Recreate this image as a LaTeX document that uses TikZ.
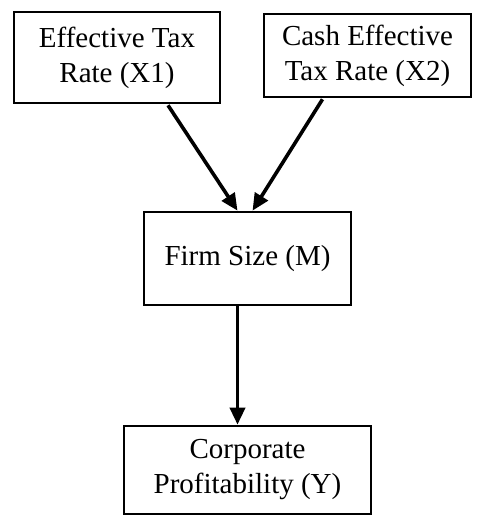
\documentclass[tikz,border=0pt]{standalone}
\usepackage{fontspec}
\setmainfont{Liberation Serif}
\usetikzlibrary{arrows.meta}

\begin{document}
\begin{tikzpicture}[x=1pt, y=1pt,
	varbox/.style={draw, line width=2.6pt, align=center, inner sep=0pt,
		font=\fontsize{29}{35}\selectfont},
	link/.style={line width=3.6pt, -{Triangle[length=17pt, width=15pt]}}]

	\useasboundingbox (0, 0) rectangle (478, 529);

	% variables
	\node[varbox, minimum width=206pt, minimum height=91pt] (etr) at (117, 471.5) {Effective Tax\\ Rate (X1)};
	\node[varbox, minimum width=207pt, minimum height=83pt] (cetr) at (367.5, 473.5) {Cash Effective\\ Tax Rate (X2)};
	\node[varbox, minimum width=207pt, minimum height=93pt] (size) at (247.5, 270.5) {Firm Size (M)};
	\node[varbox, minimum width=247pt, minimum height=88pt] (profit) at (247.5, 59) {Corporate\\ Profitability (Y)};

	% paths
	\draw[link] ([xshift=51pt, yshift=-1pt]etr.south) -- ([xshift=-10pt]size.north);
	\draw[link] ([xshift=-45pt, yshift=-1pt]cetr.south) -- ([xshift=5pt]size.north);
	\draw[link] ([xshift=-10pt]size.south) -- ([xshift=-10pt]profit.north);

\end{tikzpicture}
\end{document}
